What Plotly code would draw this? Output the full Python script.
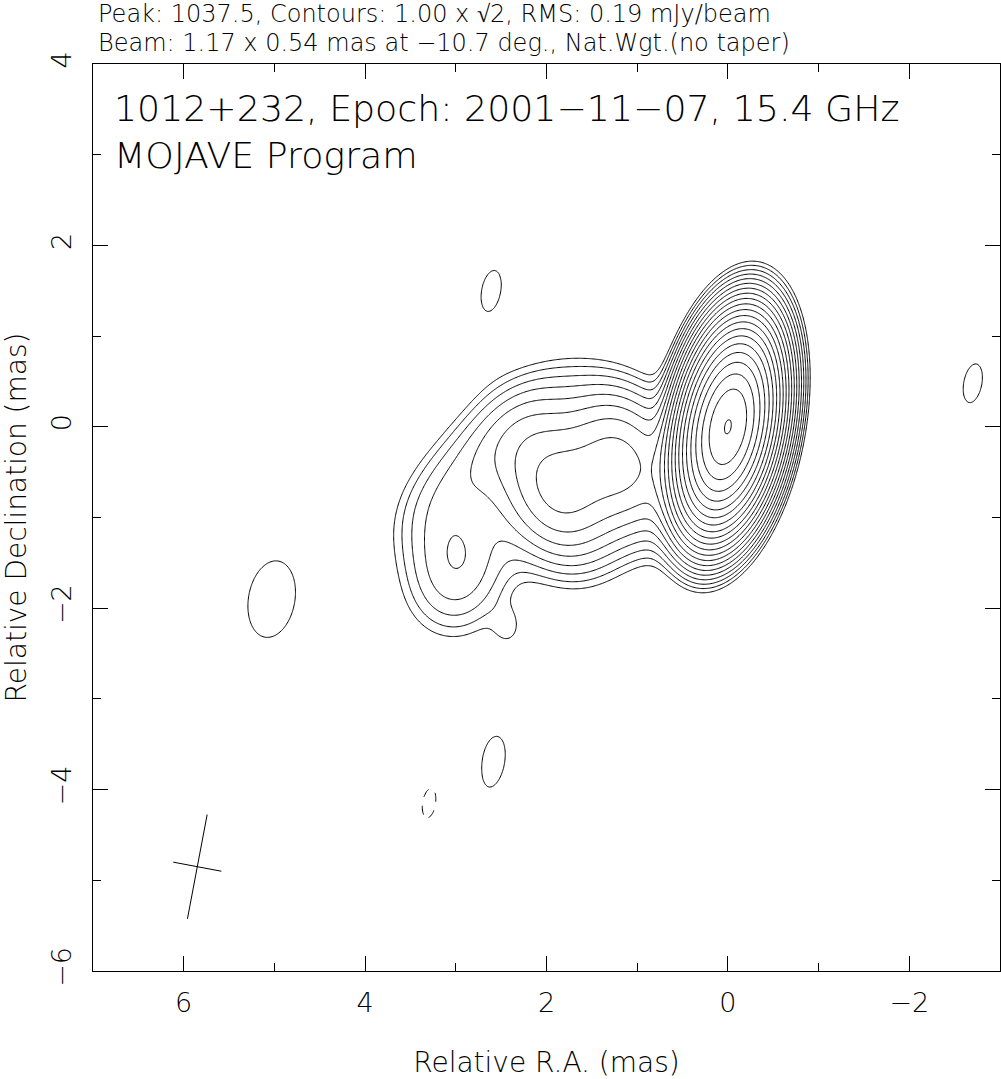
import numpy as np
import plotly.graph_objects as go

# ---------------- data: model components ----------------
# RA offset (mas), Dec offset (mas), peak (mJy/beam), FWHM major/minor (mas), PA (deg, N through E)
comp_name  = ["core", "R1", "R2", "R0", "K", "E1", "E2", "E3", "L", "S",
              "n1", "n2", "n3", "n4", "neg"]
comp_ra    = [0.00, 1.15, 1.90, 1.50, 2.98, 3.10, 2.62, 2.15, 3.10, 2.42,
              2.61, -2.70, 2.60, 5.03, 3.28]
comp_dec   = [0.00, -0.37, -0.68, -0.52, -1.42, -0.65, -0.22, 0.10, -1.90, -2.22,
              1.50, 0.48, -3.70, -1.90, -4.14]
comp_peak  = [1037.5, 9.0, 9.6, 4.0, 3.5, 1.3, 1.7, 1.2, 0.8, 0.9,
              1.11, 1.10, 1.20, 1.38, -1.08]
comp_major = [1.17, 0.80, 0.85, 1.50, 1.10, 1.30, 1.30, 1.20, 0.90, 0.40,
              1.17, 1.17, 1.17, 1.25, 1.17]
comp_minor = [0.54, 1.15, 1.20, 1.20, 0.85, 0.70, 0.70, 0.70, 0.90, 0.30,
              0.54, 0.54, 0.54, 0.75, 0.54]
comp_pa    = [-10.7, 112, 112, 112, 0, -40, -40, -40, 0, 0,
              -10.7, -10.7, -10.7, -10.0, -10.7]

# restoring beam
beam_major = 1.17
beam_minor = 0.54
beam_pa = -10.7
beam_ra = 5.85
beam_dec = -4.85

# contour scheme
base_level = 1.00          # mJy/beam
level_factor = np.sqrt(2)
n_levels = 21

title_line1 = "Peak: 1037.5, Contours: 1.00 x \u221a2, RMS: 0.19 mJy/beam"
title_line2 = "Beam: 1.17 x 0.54 mas at \u221210.7 deg., Nat.Wgt.(no taper)"
label_line1 = "1012+232, Epoch: 2001\u221211\u221207, 15.4 GHz"
label_line2 = "MOJAVE Program"

x_ticks = [6, 4, 2, 0, -2]
x_ticktext = ["6", "4", "2", "0", "\u22122"]
y_ticks = [4, 2, 0, -2, -4, -6]
y_ticktext = ["4", "2", "0", "\u22122", "\u22124", "\u22126"]

# ---------------- build the image ----------------
ra = np.linspace(-3.0, 7.0, 401)
dec = np.linspace(-6.0, 4.0, 401)
RA, DEC = np.meshgrid(ra, dec)
img = np.zeros_like(RA)
for x0, y0, p, mj, mn, pa in zip(comp_ra, comp_dec, comp_peak, comp_major, comp_minor, comp_pa):
    t = np.deg2rad(pa)
    dx, dy = RA - x0, DEC - y0
    a = dx * np.sin(t) + dy * np.cos(t)
    b = dx * np.cos(t) - dy * np.sin(t)
    img += p * np.exp(-4 * np.log(2) * ((a / mj) ** 2 + (b / mn) ** 2))

zpos = np.log(np.clip(img, 1e-4, None) / base_level) / np.log(level_factor)
zneg = np.log(np.clip(-img, 1e-4, None) / base_level) / np.log(level_factor)

FONT = "DejaVu Sans"
W = 200
fig = go.Figure()
fig.add_trace(go.Contour(
    x=ra, y=dec, z=zpos, contours=dict(start=0, end=n_levels - 1, size=1, coloring="none"),
    line=dict(color="black", width=1, smoothing=0.6), showscale=False, hoverinfo="skip"))
fig.add_trace(go.Contour(
    x=ra, y=dec, z=zneg, contours=dict(start=0, end=0, size=1, coloring="none"),
    line=dict(color="black", width=1, dash="dash", smoothing=0.6), showscale=False, hoverinfo="skip"))

# beam cross
t = np.deg2rad(beam_pa)
ux, uy = np.sin(t), np.cos(t)
vx, vy = np.cos(t), -np.sin(t)
fig.add_trace(go.Scatter(
    x=[beam_ra - ux * beam_major / 2, beam_ra + ux * beam_major / 2, None,
       beam_ra - vx * beam_minor / 2, beam_ra + vx * beam_minor / 2],
    y=[beam_dec - uy * beam_major / 2, beam_dec + uy * beam_major / 2, None,
       beam_dec - vy * beam_minor / 2, beam_dec + vy * beam_minor / 2],
    mode="lines", line=dict(color="black", width=1), hoverinfo="skip", showlegend=False))

axis_common = dict(showgrid=False, zeroline=False, showline=True, linecolor="black", linewidth=1,
                   mirror="ticks", ticks="inside", ticklen=15, tickwidth=1, tickcolor="black",
                   tickfont=dict(family=FONT, size=27, color="black", weight=W),
                   minor=dict(dtick=1, ticks="inside", ticklen=8, tickwidth=1, tickcolor="black"))
fig.update_xaxes(range=[7, -3], tickvals=x_ticks, ticktext=x_ticktext,
                 title=dict(text="Relative R.A. (mas)", font=dict(family=FONT, size=28, color="black", weight=W), standoff=34),
                 ticklabelstandoff=8, **axis_common)
fig.update_yaxes(range=[-6, 4], tickvals=y_ticks, ticktext=y_ticktext, tickangle=-90,
                 title=dict(text="Relative Declination (mas)", font=dict(family=FONT, size=28, color="black", weight=W), standoff=12),
                 ticklabelstandoff=10, **axis_common)

def px_to_paper_x(px):
    return (px - 93) / 907.0

def px_to_paper_y(py):
    return (971 - py) / 907.0

fig.add_annotation(text=title_line1, xref="paper", yref="paper", x=px_to_paper_x(96), y=px_to_paper_y(14.5),
                   xanchor="left", yanchor="middle", showarrow=False,
                   font=dict(family=FONT, size=24, color="black", weight=W))
fig.add_annotation(text=title_line2, xref="paper", yref="paper", x=px_to_paper_x(96), y=px_to_paper_y(42.5),
                   xanchor="left", yanchor="middle", showarrow=False,
                   font=dict(family=FONT, size=24, color="black", weight=W))
fig.add_annotation(text=label_line1, xref="paper", yref="paper", x=px_to_paper_x(112), y=px_to_paper_y(108),
                   xanchor="left", yanchor="middle", showarrow=False,
                   font=dict(family=FONT, size=36.3, color="black", weight=W))
fig.add_annotation(text=label_line2, xref="paper", yref="paper", x=px_to_paper_x(112), y=px_to_paper_y(155),
                   xanchor="left", yanchor="middle", showarrow=False,
                   font=dict(family=FONT, size=36.3, color="black", weight=W))

fig.update_layout(width=1001, height=1079, margin=dict(l=93, r=1, t=64, b=108, autoexpand=False),
                  paper_bgcolor="white", plot_bgcolor="white", showlegend=False)
fig.write_html("out.html", config={"displayModeBar": False},
               post_script="document.body.style.margin='0';")
